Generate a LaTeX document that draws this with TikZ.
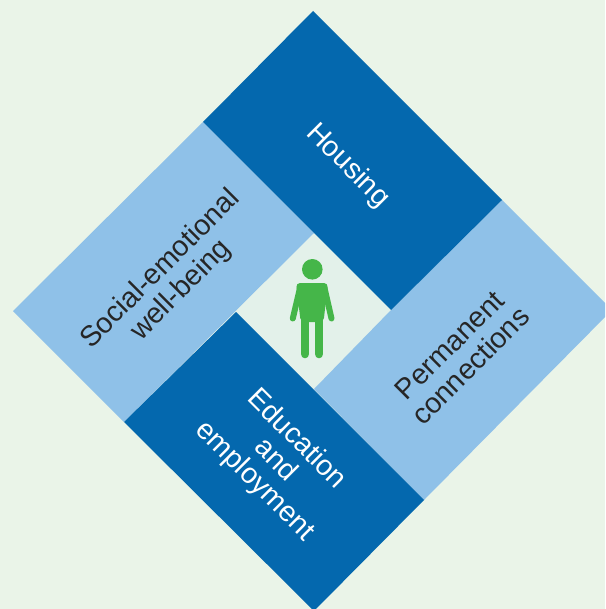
\documentclass[tikz,border=0pt]{standalone}
\usepackage{fontspec}
\setmainfont{Liberation Sans}
\definecolor{bgc}{HTML}{EAF4E8}
\definecolor{centerc}{HTML}{E3F1EA}
\definecolor{darkb}{HTML}{0468AE}
\definecolor{lightb}{HTML}{8FC1E8}
\definecolor{persong}{HTML}{45B649}
\tikzset{
  darkband/.style={fill=darkb},
  lightband/.style={fill=lightb},
  lab/.style={font=\fontsize{28.6}{29.5}\selectfont, align=center, inner sep=0pt},
  labw/.style={lab, text=white, rotate=-45},
  labk/.style={lab, text=black!85, rotate=45},
  limb/.style={draw=persong, line width=6pt, line cap=round, line join=round},
  leg/.style={draw=persong, line width=8.6pt, line cap=round}
}
\begin{document}
\begin{tikzpicture}[x=1pt,y=-1pt]
\useasboundingbox (0,0) rectangle (605,609);
\fill[bgc] (0,0) rectangle (605,609);
\clip (0,0) rectangle (605,609);
\fill[centerc] (314,233) -- (391,310) -- (314,389) -- (236,312) -- cycle;
\fill[lightband] (203,122) -- (314,233) -- (124,422) -- (13,311) -- cycle;
\fill[lightband] (391,310) -- (502,200) -- (612,310) -- (424,500) -- (314,389) -- cycle;
\fill[darkband] (313,11) -- (502,200) -- (391,310) -- (203,122) -- cycle;
\fill[darkband] (236,312) -- (424,500) -- (314,611) -- (124,422) -- cycle;
% person
\fill[persong] (312.3,269.3) circle (10.3);
\fill[persong, rounded corners=4pt] (296,283) -- (328,283) -- (323.5,322) -- (300.7,322) -- cycle;
\draw[limb] (300,288) -- (292.8,318.5);
\draw[limb] (324.5,288) -- (331.5,318.5);
\draw[leg] (305,300) -- (305,354);
\draw[leg] (319,300) -- (319,354);
% labels
\node[labw] (housing) at (347.5,166) {Housing};
\node[labk] (social) at (171,280) {Social-emotional\\well-being};
\node[labk] (perm) at (460,355.5) {Permanent\\connections};
\node[labw] (edu) at (275.5,460.5) {Education\\and\\employment};
\end{tikzpicture}
\end{document}
